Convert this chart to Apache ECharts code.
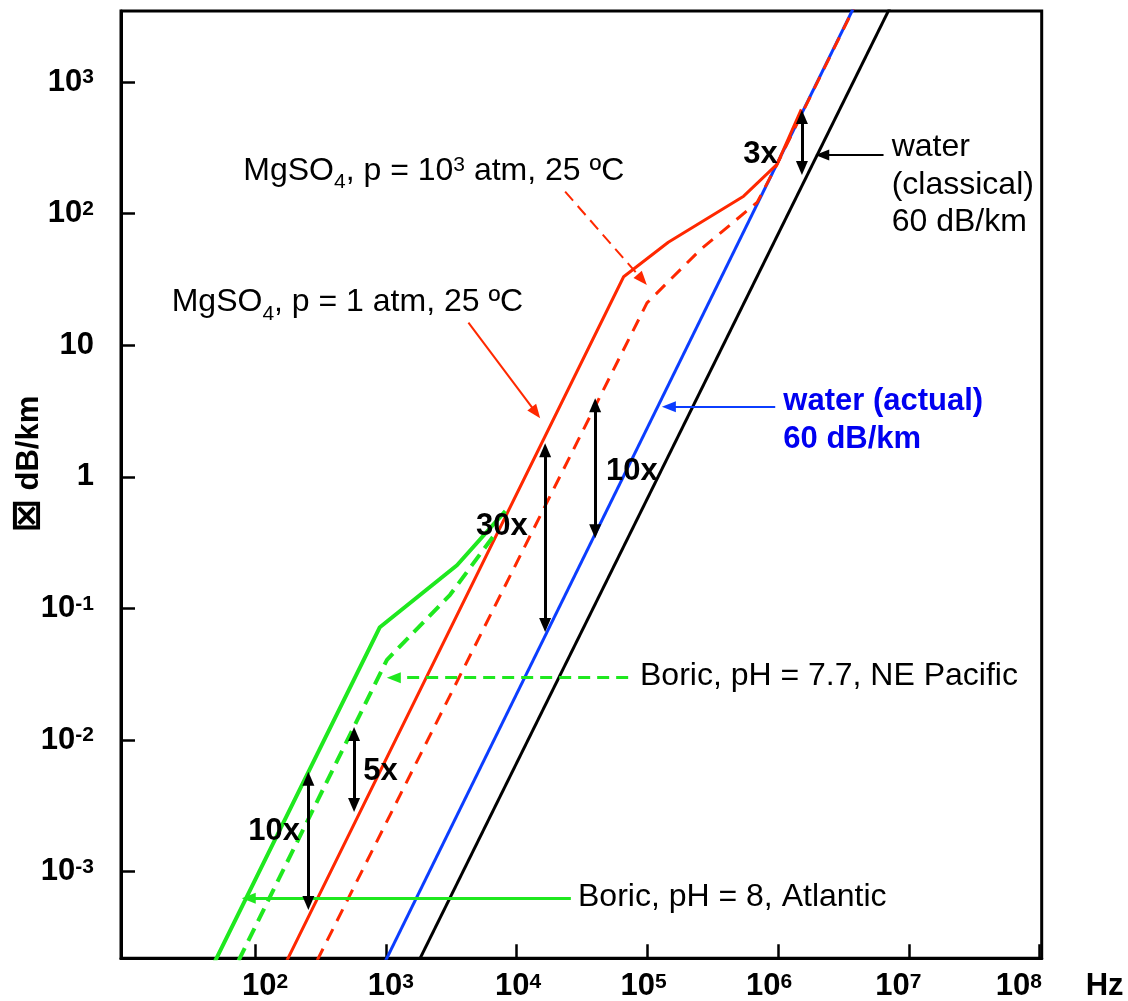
<!DOCTYPE html>
<html><head><meta charset="utf-8">
<script src="https://cdn.jsdelivr.net/npm/echarts@6/dist/echarts.min.js"></script>
<style>html,body{margin:0;padding:0;background:#fff}#c{width:1128px;height:1001px}</style>
</head><body><div id="c"></div>
<script>
// ---- data: frequency (Hz) and attenuation (dB/km) ----
const boricAtlanticFreq  = [40, 900, 3500, 8200];
const boricAtlanticAtten = [1.36e-4, 0.072, 0.213, 0.55];
const boricPacificFreq   = [63, 1020, 3100, 7230];
const boricPacificAtten  = [1.49e-4, 0.0407, 0.127, 0.397];
const mgso4AtmFreq       = [141, 65800, 144500, 544500, 979500, 1503000];
const mgso4AtmAtten      = [1.36e-4, 33.2, 60.7, 136, 237, 621];
const mgso4HighFreq      = [251, 99300, 254100, 690200, 979500, 5012000];
const mgso4HighAtten     = [1.5e-4, 21.0, 53.3, 122, 237, 6457];
const waterActualFreq    = [794, 1e7];
const waterActualAtten   = [1.33e-4, 26400];
const waterClassicalFreq = [1259, 1e7];
const waterClassicalAtten= [1.035e-4, 7211];
const xTickExponents = [2, 3, 4, 5, 6, 7, 8];
const yTickExponents = [-3, -2, -1, 0, 1, 2, 3];

// annotation arrows, positions in log10(Hz), log10(dB/km)
const pointerArrows = [
  {from:[4.4147,-3.203], to:[1.9518,-3.203], color:'green', dash:false},
  {from:[4.853,-1.526],  to:[3.0609,-1.526], color:'green', dash:true},
  {from:[3.6315,1.172],  to:[4.1478,0.488],  color:'red',   dash:false},
  {from:[4.3711,2.1677], to:[4.9608,1.4988], color:'red',   dash:true},
  {from:[5.9774,0.5336], to:[5.1643,0.5336], color:'blue',  dash:false},
  {from:[6.8057,2.4466], to:[6.3368,2.4466], color:'black', dash:false}
];
const ratioArrows = [
  {x:6.1816, y1:2.7354,  y2:2.3478},
  {x:4.6006, y1:0.5442,  y2:-0.4135},
  {x:4.2181, y1:0.2022,  y2:-1.1256},
  {x:2.4077, y1:-2.2938, y2:-3.2386},
  {x:2.7572, y1:-1.9541, y2:-2.4937}
];
const xLabelShift = [10, 5, 1.5, -3.7, -9, -10.7, -21];

const FONT = '"Liberation Sans", Arial, Helvetica, sans-serif';
const COLORS = {green:'#1fe81f', red:'#ff2800', blue:'#0b3dff', black:'#000000'};
const BLUE_TXT = '#0000f0';

function pts(f, a) { return f.map((v, i) => [Math.log10(v), Math.log10(a[i])]); }

const xRich = {};
xLabelShift.forEach((s, i) => {
  xRich['b' + i] = {fontSize:31, fontWeight:'bold', fontFamily:FONT, color:'#000', lineHeight:36,
                    padding:[0, 0, 0, s > 0 ? 2 * s : 0]};
  xRich['s' + i] = {fontSize:21, fontWeight:'bold', fontFamily:FONT, color:'#000', lineHeight:21,
                    verticalAlign:'top', padding:[3, s < 0 ? -2 * s : 0, 0, 0]};
});

const lineSeries = (name, data, color, width, dash, z) => ({
  name, type:'line', data, symbol:'none', showSymbol:false, silent:true, clip:true, z,
  lineStyle:{color, width, type: dash || 'solid'}
});

const markData = [];
pointerArrows.forEach(a => {
  const ls = {color:COLORS[a.color], width: a.color === 'green' ? 3 : 2, type: a.dash ? [12, 7] : 'solid'};
  markData.push([
    {coord:a.from, symbol:'none', lineStyle:ls},
    {coord:a.to, symbol:'triangle', symbolSize:[11, 14], lineStyle:ls}
  ]);
});
ratioArrows.forEach(a => {
  const ls = {color:'#000', width:3, type:'solid'};
  markData.push([
    {coord:[a.x, a.y1], symbol:'triangle', symbolSize:[12, 14], lineStyle:ls},
    {coord:[a.x, a.y2], symbol:'triangle', symbolSize:[12, 14], lineStyle:ls}
  ]);
});

function txt(x, y, text, o) {
  o = o || {};
  const fs = o.bold ? 31 : 32;
  return {
    type:'text', x, y, silent:true, z:100,
    style:{
      text, fill:o.color || '#000', fontSize:fs, fontFamily:FONT, fontWeight:o.bold ? 'bold' : 'normal',
      textAlign:'left', align:'left', textVerticalAlign:'middle', verticalAlign:'middle',
      lineHeight:o.lh || 44,
      rich:{
        sub:{fontSize:21, fontFamily:FONT, fill:'#000', lineHeight:21, verticalAlign:'bottom', padding:[0,0,0,0]},
        sup:{fontSize:21, fontFamily:FONT, fill:'#000', lineHeight:21, verticalAlign:'top', padding:[6,0,0,0]}
      }
    }
  };
}

const chart = echarts.init(document.getElementById('c'), null, {renderer:'canvas'});
const option = {
  animation:false,
  backgroundColor:'#ffffff',
  grid:{left:121, top:11, right:86.3, bottom:42.7, show:true, borderColor:'#000', borderWidth:3,
        backgroundColor:'transparent', outerBoundsMode:'none', containLabel:false},
  xAxis:{
    type:'value', min:0.975, max:8.015,
    axisLine:{show:true, onZero:false, lineStyle:{color:'#000', width:3}},
    axisTick:{show:true, inside:true, length:14, customValues:xTickExponents, lineStyle:{color:'#000', width:2.5}},
    axisLabel:{show:true, customValues:xTickExponents, margin:10, color:'#000',
      fontSize:31, fontWeight:'bold', fontFamily:FONT,
      formatter:(v) => { const n = Math.round(v); const i = n - 2; return '{b' + i + '|10}{s' + i + '|' + n + '}'; },
      rich:xRich},
    splitLine:{show:false},
    name:'Hz', nameLocation:'end', nameGap:44, nameMoveOverlap:false,
    nameTextStyle:{fontSize:31, fontWeight:'bold', fontFamily:FONT, color:'#000', verticalAlign:'top', lineHeight:56}
  },
  yAxis:{
    type:'value', min:-3.659, max:3.541,
    axisLine:{show:true, onZero:false, lineStyle:{color:'#000', width:3}},
    axisTick:{show:true, inside:true, length:14, customValues:yTickExponents, lineStyle:{color:'#000', width:2.5}},
    axisLabel:{show:true, customValues:yTickExponents, margin:27, color:'#000',
      fontSize:31, fontWeight:'bold', fontFamily:FONT,
      formatter:(v) => { const n = Math.round(v); if (n === 0) return '{b|1}'; if (n === 1) return '{b|10}'; return '{b|10}{s|' + n + '}'; },
      rich:{
        b:{fontSize:31, fontWeight:'bold', fontFamily:FONT, color:'#000', lineHeight:44},
        s:{fontSize:21, fontWeight:'bold', fontFamily:FONT, color:'#000', lineHeight:21, verticalAlign:'top', padding:[7,0,0,0]}
      }},
    splitLine:{show:false},
    name:'{box|\u22A0} dB/km', nameLocation:'middle', nameRotate:90, nameGap:74, nameMoveOverlap:false,
    nameTextStyle:{fontSize:31, fontWeight:'bold', fontFamily:FONT, color:'#000', padding:[0,0,0,41], lineHeight:36,
      rich:{box:{fontSize:40, fontWeight:'bold', fontFamily:'"DejaVu Sans", sans-serif', color:'#000', lineHeight:36}}}
  },
  series:[
    lineSeries('water (actual)', pts(waterActualFreq, waterActualAtten), COLORS.blue, 3, null, 2),
    lineSeries('water (classical)', pts(waterClassicalFreq, waterClassicalAtten), COLORS.black, 3, null, 2),
    lineSeries('MgSO4, p = 1 atm, 25 ºC', pts(mgso4AtmFreq, mgso4AtmAtten), COLORS.red, 3, null, 3),
    lineSeries('MgSO4, p = 10^3 atm, 25 ºC', pts(mgso4HighFreq, mgso4HighAtten), COLORS.red, 3, [13, 9], 4),
    lineSeries('Boric, pH = 8, Atlantic', pts(boricAtlanticFreq, boricAtlanticAtten), COLORS.green, 4, null, 3),
    lineSeries('Boric, pH = 7.7, NE Pacific', pts(boricPacificFreq, boricPacificAtten), COLORS.green, 4, [14, 8], 3),
    {name:'annotations', type:'line', data:[[2, 0]], symbol:'none', lineStyle:{width:0, opacity:0}, silent:true, z:5,
     markLine:{silent:true, animation:false, label:{show:false}, emphasis:{disabled:true}, data:markData}}
  ],
  graphic:[
    txt(243.3, 171, 'MgSO{sub|4}, p = 10{sup|3} atm, 25 ºC'),
    txt(171.7, 302.6, 'MgSO{sub|4}, p = 1 atm, 25 ºC'),
    txt(640, 676, 'Boric, pH = 7.7, NE Pacific'),
    txt(578, 897.3, 'Boric, pH = 8, Atlantic'),
    txt(783.3, 420.4, 'water (actual)\n60 dB/km', {bold:true, color:BLUE_TXT, lh:37.7}),
    txt(891.7, 185.1, 'water\n(classical)\n60 dB/km', {lh:37.5}),
    txt(743.3, 154.3, '3x', {bold:true}),
    txt(606, 471.3, '10x', {bold:true}),
    txt(476, 526, '30x', {bold:true}),
    txt(248.3, 831, '10x', {bold:true}),
    txt(363.3, 771, '5x', {bold:true})
  ]
};
chart.setOption(option);
</script>
</body></html>
